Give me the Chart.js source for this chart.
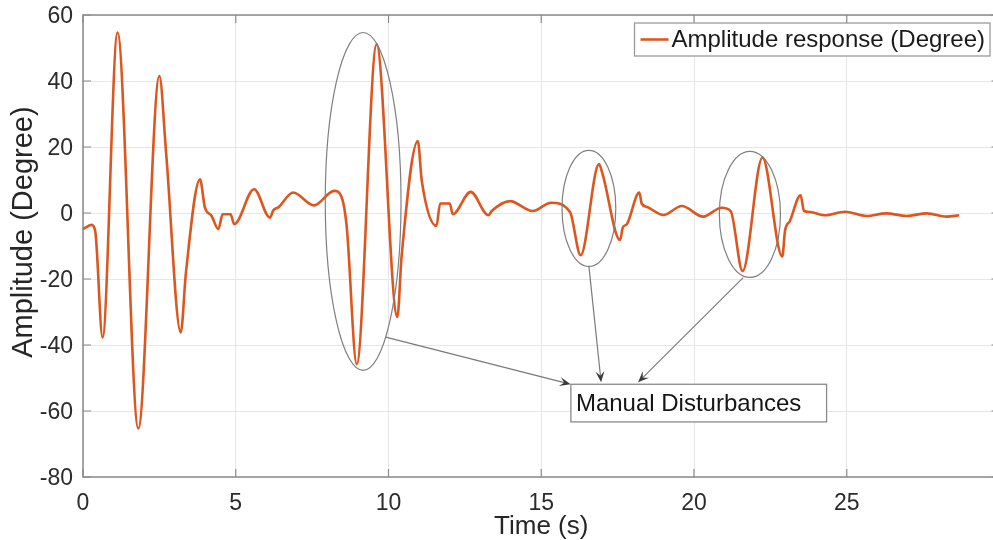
<!DOCTYPE html>
<html>
<head>
<meta charset="utf-8">
<title>Amplitude response</title>
<script src="https://cdn.jsdelivr.net/npm/chart.js@4.4.1/dist/chart.umd.min.js"></script>
<style>
  html, body { margin: 0; padding: 0; background: #fff; overflow: hidden; }
  #wrap { width: 1010px; height: 540px; }
</style>
</head>
<body>
<div id="wrap"><canvas id="ampChart" width="1010" height="540"></canvas></div>
<script>
// Measured response (time in seconds, amplitude in degrees)
const timeS = [
  0.00, 0.28, 0.40, 0.64, 1.13, 1.81, 2.50, 2.72, 3.20, 3.37,
  3.83, 3.99, 4.21, 4.43, 4.57, 4.83, 4.95, 5.60, 6.12, 6.23,
  6.39, 6.88, 7.56, 8.22, 8.47, 8.63, 8.96, 9.61, 10.29, 10.43,
  10.96, 11.09, 11.57, 11.69, 12.01, 12.10, 12.69, 13.27, 13.38, 13.98,
  14.72, 15.32, 15.94, 16.29, 16.89, 17.01, 17.58, 17.67, 17.80, 18.21,
  18.29, 18.45, 19.00, 19.60, 20.30, 20.90, 21.20, 21.59, 22.24, 22.89,
  22.98, 23.14, 23.49, 23.60, 23.80, 24.29, 24.94, 25.65, 26.28, 26.96,
  27.62, 28.27, 28.68
];
const amplitude = [
  -4.9, -3.6, -5.5, -37.7, 54.7, -65.3, 41.5, 18.3, -36.2, -18.0,
  10.2, 1.7, -0.9, -4.9, -0.4, -0.4, -3.4, 7.2, -1.4, 0.8,
  1.7, 6.2, 2.3, 6.7, 4.7, -3.9, -45.8, 51.1, -31.5, -13.0,
  21.8, 9.7, -3.9, 2.9, 2.9, -0.4, 6.4, -0.7, 0.6, 3.6,
  0.6, 3.1, 0.3, -12.8, 14.8, 11.7, -8.2, -4.4, -3.4, 6.2,
  2.8, 1.9, -0.6, 2.1, -1.1, 1.6, 0.6, -17.6, 16.8, -13.2,
  -5.4, -2.4, 5.4, 0.6, 0.3, -0.7, 0.4, -0.9, -0.1, -0.9,
  -0.1, -1.1, -0.7
];
const xTicks = [0, 5, 10, 15, 20, 25, 30];
const yTicks = [60, 40, 20, 0, -20, -40, -60, -80];
const seriesLabel = 'Amplitude response (Degree)';
const yTitle = 'Amplitude (Degree)';
const noteText = 'Manual Disturbances';

const FONT = '"Liberation Sans", Arial, Helvetica, sans-serif';
const TICK = 8;

// Callout shapes, in axis units
const rings = [
  { t: 9.17, v: 3.5, rt: 1.24, rv: 51.2 },
  { t: 16.56, v: 1.4, rt: 0.88, rv: 17.6 },
  { t: 21.83, v: -0.4, rt: 1.0, rv: 19.1 }
];
const noteBox = { t0: 15.97, t1: 24.34, v0: -51.9, v1: -63.3 };
const arrows = [
  { from: [9.91, -37.6], to: [15.96, -51.9] },
  { from: [16.56, -16.1], to: [16.96, -51.3] },
  { from: [21.61, -19.6], to: [18.17, -51.3] }
];

const points = timeS.map((t, i) => ({ x: t, y: amplitude[i] }));

const drawArrow = (ctx, x0, y0, x1, y1) => {
  const ang = Math.atan2(y1 - y0, x1 - x0);
  const len = 11, half = 4.5;
  ctx.strokeStyle = '#7a7a7a';
  ctx.lineWidth = 1.2;
  ctx.beginPath();
  ctx.moveTo(x0, y0);
  ctx.lineTo(x1 - Math.cos(ang) * len * 0.6, y1 - Math.sin(ang) * len * 0.6);
  ctx.stroke();

  ctx.save();
  ctx.translate(x1, y1);
  ctx.rotate(ang);
  ctx.fillStyle = '#3a3a3a';
  ctx.beginPath();
  ctx.moveTo(0, 0);
  ctx.lineTo(-len, -half);
  ctx.lineTo(-len * 0.6, 0);
  ctx.lineTo(-len, half);
  ctx.closePath();
  ctx.fill();
  ctx.restore();
};

const frameAndNotes = {
  id: 'frameAndNotes',
  beforeDatasetsDraw(chart) {
    const { ctx, chartArea: a, scales: { x, y } } = chart;
    ctx.save();
    ctx.strokeStyle = '#8a8a8a';
    ctx.lineWidth = 1.5;
    ctx.strokeRect(a.left, a.top, a.right - a.left, a.bottom - a.top);

    // inward tick marks on all four sides
    ctx.lineWidth = 1.2;
    ctx.beginPath();
    xTicks.forEach(t => {
      const px = x.getPixelForValue(t);
      ctx.moveTo(px, a.bottom); ctx.lineTo(px, a.bottom - TICK);
      ctx.moveTo(px, a.top); ctx.lineTo(px, a.top + TICK);
    });
    yTicks.forEach(v => {
      const py = y.getPixelForValue(v);
      ctx.moveTo(a.left, py); ctx.lineTo(a.left + TICK, py);
      ctx.moveTo(a.right, py); ctx.lineTo(a.right - TICK, py);
    });
    ctx.stroke();
    ctx.restore();
  },
  afterDatasetsDraw(chart) {
    const { ctx, chartArea: a, scales: { x, y } } = chart;
    ctx.save();

    // ellipses around the disturbances
    ctx.strokeStyle = '#7f7f7f';
    ctx.lineWidth = 1.2;
    rings.forEach(r => {
      const cx = x.getPixelForValue(r.t);
      const cy = y.getPixelForValue(r.v);
      const rx = x.getPixelForValue(r.t + r.rt) - cx;
      const ry = cy - y.getPixelForValue(r.v + r.rv);
      ctx.beginPath();
      ctx.ellipse(cx, cy, rx, ry, 0, 0, Math.PI * 2);
      ctx.stroke();
    });

    arrows.forEach(ar => {
      drawArrow(ctx,
        x.getPixelForValue(ar.from[0]), y.getPixelForValue(ar.from[1]),
        x.getPixelForValue(ar.to[0]), y.getPixelForValue(ar.to[1]));
    });

    // text box
    const bx0 = x.getPixelForValue(noteBox.t0);
    const bx1 = x.getPixelForValue(noteBox.t1);
    const by0 = y.getPixelForValue(noteBox.v0);
    const by1 = y.getPixelForValue(noteBox.v1);
    ctx.fillStyle = '#fff';
    ctx.fillRect(bx0, by0, bx1 - bx0, by1 - by0);
    ctx.strokeStyle = '#8a8a8a';
    ctx.lineWidth = 1.3;
    ctx.strokeRect(bx0, by0, bx1 - bx0, by1 - by0);
    ctx.fillStyle = '#151515';
    ctx.font = '24px ' + FONT;
    ctx.textBaseline = 'middle';
    ctx.textAlign = 'left';
    ctx.fillText(noteText, bx0 + 5, (by0 + by1) / 2 + 1);

    // legend inside the top right corner
    const ds = chart.data.datasets[0];
    const tw = ctx.measureText(ds.label).width;
    const lw = 6 + 28 + 3 + tw + 5;
    const lx1 = a.right - 9.5;
    const lx0 = lx1 - lw;
    const ly0 = a.top + 8;
    const ly1 = ly0 + 33;
    ctx.fillStyle = '#fff';
    ctx.fillRect(lx0, ly0, lw, ly1 - ly0);
    ctx.strokeStyle = '#9a9a9a';
    ctx.lineWidth = 1.3;
    ctx.strokeRect(lx0, ly0, lw, ly1 - ly0);
    const ly = (ly0 + ly1) / 2;
    ctx.strokeStyle = ds.borderColor;
    ctx.lineWidth = ds.borderWidth;
    ctx.beginPath();
    ctx.moveTo(lx0 + 6, ly);
    ctx.lineTo(lx0 + 34, ly);
    ctx.stroke();
    ctx.fillStyle = '#1a1a1a';
    ctx.fillText(ds.label, lx0 + 37, ly + 1);

    // rotated y axis label, sitting a little above the axis middle
    ctx.translate(24, a.top + (a.bottom - a.top) * 0.47);
    ctx.rotate(-Math.PI / 2);
    ctx.textAlign = 'center';
    ctx.fillStyle = '#262626';
    ctx.font = '29px ' + FONT;
    ctx.fillText(yTitle, 0, 0);

    ctx.restore();
  }
};

// drop the label overflow padding so the plot box is set by layout.padding alone
const noScalePadding = scale => {
  scale.paddingTop = 0;
  scale.paddingBottom = 0;
  scale.paddingLeft = 0;
  scale.paddingRight = 0;
};

new Chart(document.getElementById('ampChart'), {
  type: 'line',
  data: {
    datasets: [{
      label: seriesLabel,
      data: points,
      borderColor: '#DC5720',
      borderWidth: 2.6,
      pointRadius: 0,
      cubicInterpolationMode: 'monotone',
      fill: false
    }]
  },
  options: {
    responsive: false,
    devicePixelRatio: 1,
    animation: false,
    layout: { padding: { top: 15, right: 10.5, left: 0, bottom: 0 } },
    plugins: {
      legend: { display: false },
      tooltip: { enabled: false }
    },
    scales: {
      x: {
        type: 'linear',
        min: 0,
        max: 30,
        afterBuildTicks: scale => { scale.ticks = xTicks.map(v => ({ value: v })); },
        afterFit: scale => { scale.height = 63; noScalePadding(scale); },
        ticks: {
          color: '#2b2b2b',
          font: { family: FONT, size: 23 },
          padding: 13,
          maxRotation: 0,
          callback: v => (v === 30 ? '' : v)
        },
        grid: { color: '#e6e6e6', lineWidth: 1, drawTicks: false },
        border: { display: false },
        title: {
          display: true,
          text: 'Time (s)',
          color: '#262626',
          font: { family: FONT, size: 26, lineHeight: 1.05 },
          padding: { top: 0, bottom: 0 }
        }
      },
      y: {
        min: -80,
        max: 60,
        afterBuildTicks: scale => { scale.ticks = yTicks.map(v => ({ value: v })); },
        afterFit: scale => { scale.width = 83; noScalePadding(scale); },
        ticks: {
          color: '#2b2b2b',
          font: { family: FONT, size: 23 },
          padding: 10,
          labelOffset: 2
        },
        grid: { color: '#e6e6e6', lineWidth: 1, drawTicks: false },
        border: { display: false }
      }
    }
  },
  plugins: [frameAndNotes]
});
</script>
</body>
</html>
